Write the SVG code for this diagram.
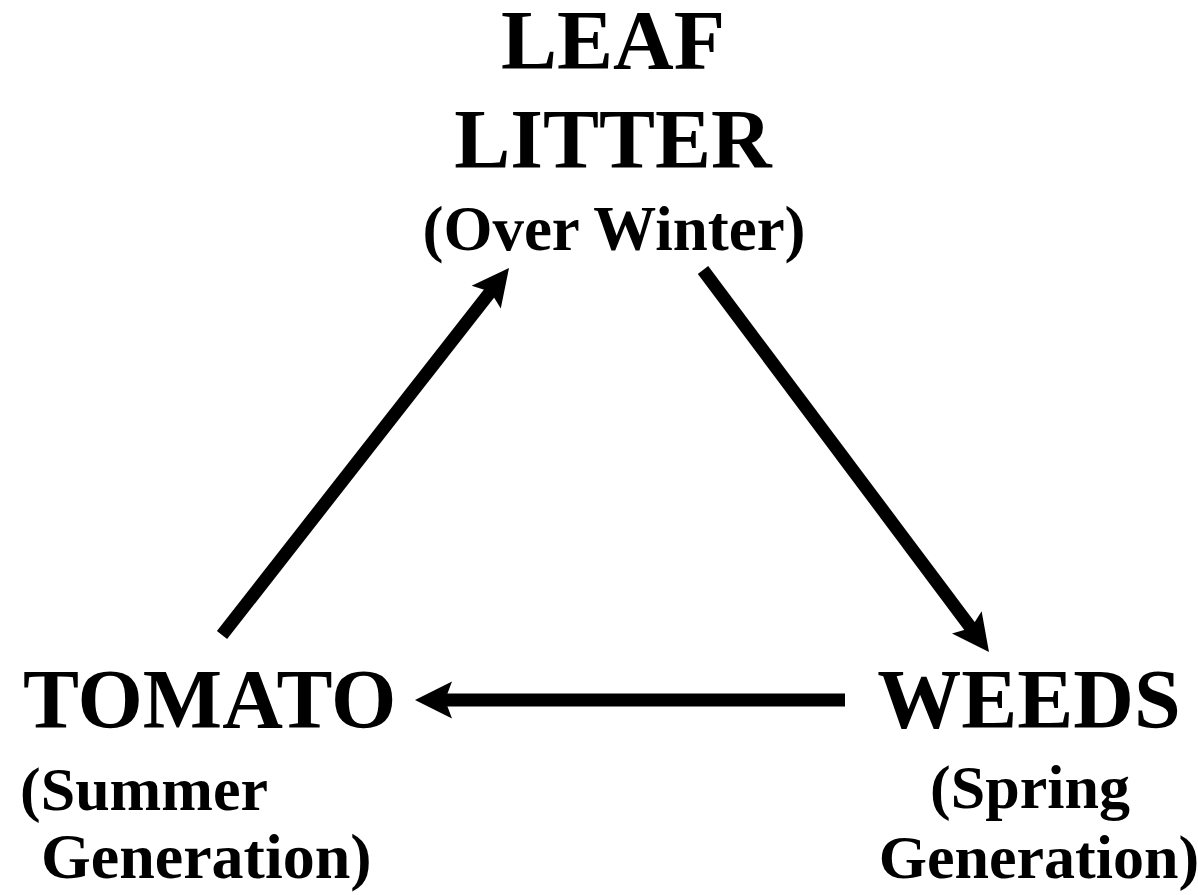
<svg xmlns="http://www.w3.org/2000/svg" width="1198" height="895" viewBox="0 0 1198 895">
<style>
.big{font-family:"Liberation Serif","Times New Roman",serif;font-weight:bold;font-size:84px;fill:#000}
.sub{font-family:"Liberation Serif","Times New Roman",serif;font-weight:bold;font-size:62px;fill:#000}
.conn{stroke:#000;stroke-width:13;fill:none;marker-end:url(#ah)}
</style>
<defs>
<marker id="ah" markerUnits="userSpaceOnUse" viewBox="-15 -20 45 40" markerWidth="45" markerHeight="40" refX="0" refY="0" orient="auto">
<path d="M25,0 L-12,-18.5 L-5,0 L-12,18.5 Z" fill="#000"/>
</marker>
</defs>
<rect width="1198" height="895" fill="#fff"/>
<g id="connectors">
<line class="conn" x1="222" y1="635" x2="493.6" y2="287.7"/>
<line class="conn" x1="703" y1="270" x2="974" y2="632"/>
<line class="conn" x1="845" y1="700" x2="440" y2="700"/>
</g>
<g id="leaf-litter">
<text class="big" x="613" y="69" text-anchor="middle">LEAF</text>
<text class="big" x="613" y="168" text-anchor="middle">LITTER</text>
<text class="sub" x="614" y="250" text-anchor="middle" style="font-size:63px">(Over Winter)</text>
</g>
<g id="tomato">
<text class="big" x="23" y="728">TOMATO</text>
<text class="sub" x="20" y="810">(Summer</text>
<text class="sub" x="41" y="878" style="font-size:64px">Generation)</text>
</g>
<g id="weeds">
<text class="big" x="1029" y="728" text-anchor="middle">WEEDS</text>
<text class="sub" x="1030" y="808" text-anchor="middle">(Spring</text>
<text class="sub" x="1039" y="878" text-anchor="middle">Generation)</text>
</g>
</svg>
